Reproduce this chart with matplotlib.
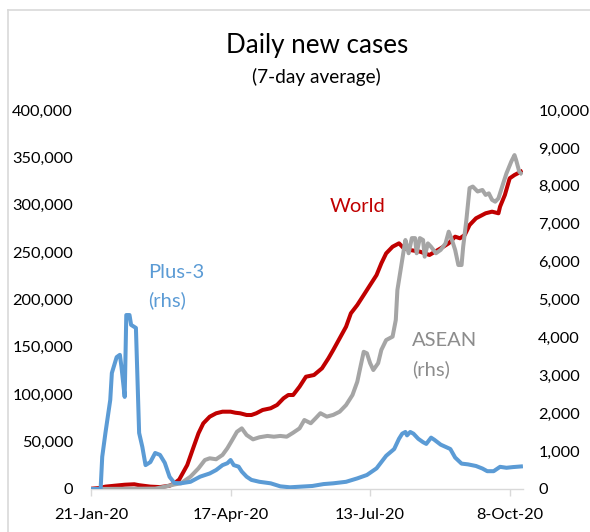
import matplotlib
matplotlib.use('Agg')
import matplotlib.pyplot as plt
from matplotlib.ticker import FuncFormatter
from matplotlib.lines import Line2D
import pandas as pd

plt.rcParams['font.family'] = ['Lato', 'DejaVu Sans']

start_date = '2020-01-21'

world_days = [0, 5, 9, 15, 21, 27, 30, 37, 43, 49, 52, 55, 60, 64, 67, 70, 74, 78, 82, 87, 90, 93,
              97, 100, 103, 107, 112, 116, 120, 123, 126, 130, 134, 139, 144, 148, 151, 155, 159,
              162, 166, 170, 174, 178, 181, 184, 188, 192, 195, 199, 205, 211, 218, 223, 227, 230,
              233, 236, 240, 246, 250, 254, 255, 258, 261, 264, 268]
world_vals = [300, 1000, 2500, 3500, 4500, 5000, 4000, 2500, 2000, 3500, 6000, 10000, 25300, 44600,
              58800, 69300, 76300, 79900, 81600, 81600, 80500, 79900, 78100, 78100, 79900, 83400,
              85200, 88700, 95700, 99200, 99200, 108000, 118500, 120300, 127400, 137900, 146700,
              159000, 171300, 185400, 194200, 204700, 215300, 225800, 238200, 248700, 255700,
              259300, 254000, 252200, 250500, 247000, 254000, 259300, 266300, 264600, 268100,
              278600, 285700, 291000, 292700, 291000, 298000, 310300, 327900, 331400, 334900]

asean_days = [0, 40, 46, 52, 56, 62, 67, 71, 74, 78, 82, 85, 88, 91, 94, 97, 101, 105, 110, 114,
              118, 122, 126, 130, 133, 137, 140, 143, 147, 151, 155, 159, 163, 166, 168, 170, 172,
              174, 176, 179, 181, 184, 188, 190, 191, 193, 195, 196, 198, 200, 202, 203, 205, 207,
              208, 210, 212, 215, 218, 221, 223, 225, 227, 229, 231, 232, 234, 236, 238, 241, 244,
              246, 248, 250, 252, 254, 257, 259, 262, 264, 265, 267, 268]
asean_vals = [0, 10, 60, 120, 150, 325, 545, 765, 810, 785, 900, 1075, 1290, 1510, 1600, 1425,
              1310, 1365, 1400, 1380, 1400, 1380, 1485, 1600, 1820, 1735, 1865, 2000, 1910, 1955,
              2040, 2215, 2480, 2830, 3230, 3620, 3580, 3320, 3140, 3320, 3670, 3930, 4020, 4460,
              5250, 5780, 6310, 6570, 6220, 6620, 6620, 6220, 6620, 6570, 6130, 6480, 6390, 6220,
              6310, 6480, 6790, 6570, 6310, 5910, 5910, 6390, 7100, 7940, 7980, 7850, 7890, 7760,
              7800, 7630, 7580, 7670, 8070, 8330, 8640, 8810, 8680, 8370, 8330]

plus3_days = [0, 6, 7, 9, 12, 13, 16, 18, 19, 21, 22, 24, 25, 28, 30, 32, 34, 37, 40, 43, 46, 49,
              52, 56, 62, 68, 74, 78, 82, 85, 87, 89, 92, 94, 97, 100, 105, 112, 118, 124, 130, 138,
              145, 151, 159, 166, 172, 178, 184, 189, 192, 194, 196, 197, 199, 201, 204, 207, 209,
              212, 214, 218, 224, 227, 231, 235, 240, 244, 247, 251, 255, 259, 263, 268]
plus3_vals = [0, 0, 850, 1480, 2350, 3060, 3480, 3540, 3220, 2430, 4590, 4590, 4330, 4250, 1480,
              1110, 630, 710, 950, 900, 690, 320, 160, 150, 190, 325, 410, 500, 630, 680, 765, 630,
              590, 460, 325, 240, 190, 150, 70, 45, 60, 80, 130, 150, 190, 280, 370, 545, 876, 1055,
              1325, 1460, 1505, 1415, 1505, 1460, 1325, 1235, 1190, 1355, 1300, 1170, 1055, 830,
              670, 650, 607, 540, 470, 470, 585, 560, 578, 595]

xtick_labels = ['21-Jan-20', '17-Apr-20', '13-Jul-20', '8-Oct-20']
left_ticks = list(range(0, 400001, 50000))
right_ticks = list(range(0, 10001, 1000))

start = pd.Timestamp(start_date)
to_dates = lambda d: start + pd.to_timedelta(d, unit='D')

W, H = 590, 532
fig = plt.figure(figsize=(W / 100, H / 100), dpi=100)
ax = fig.add_axes([91 / W, 43 / H, 432 / W, 379 / H])
ax2 = ax.twinx()

red, grey, blue = '#C00000', '#A5A5A5', '#5B9BD5'
lw = 2.9
ax.plot(to_dates(world_days), world_vals, color=red, lw=lw, solid_joinstyle='round')
ax2.plot(to_dates(asean_days), asean_vals, color=grey, lw=lw, solid_joinstyle='round')
ax2.plot(to_dates(plus3_days), plus3_vals, color=blue, lw=lw, solid_joinstyle='round')

ax.set_xlim(start, start + pd.Timedelta(days=269.3))
ax.set_ylim(0, 400000)
ax2.set_ylim(0, 10000)
ax.set_yticks(left_ticks)
ax2.set_yticks(right_ticks)
fmt = FuncFormatter(lambda v, p: f'{int(round(v)):,}')
ax.yaxis.set_major_formatter(fmt)
ax2.yaxis.set_major_formatter(fmt)

xt = [pd.Timestamp(pd.to_datetime(s, format='%d-%b-%y')) for s in xtick_labels]
ax.set_xticks(xt)
ax.set_xticklabels(xtick_labels)

fs = 11.8
ax.tick_params(axis='y', length=0, pad=13, labelsize=fs, labelcolor='black')
ax2.tick_params(axis='y', length=0, pad=11, labelsize=fs, labelcolor='black')
ax.tick_params(axis='x', length=5, width=1, color='#D9D9D9', direction='out', pad=9,
               labelsize=fs, labelcolor='black')

for s in ['left', 'right', 'top']:
    ax.spines[s].set_visible(False)
for s in ax2.spines.values():
    s.set_visible(False)
ax.spines['bottom'].set_color('#D9D9D9')
ax.spines['bottom'].set_linewidth(1.0)

fig.text(317 / W, 1 - 45 / H, 'Daily new cases', ha='center', va='center', fontsize=18.7)
fig.text(316 / W, 1 - 77 / H, '(7-day average)', ha='center', va='center', fontsize=13.7)

afs = 14.5
fig.text(330 / W, 1 - 206 / H, 'World', color=red, ha='left', va='center', fontsize=afs)
fig.text(148 / W, 1 - 273 / H, 'Plus-3', color=blue, ha='left', va='center', fontsize=afs)
fig.text(148 / W, 1 - 300 / H, '(rhs)', color=blue, ha='left', va='center', fontsize=afs)
fig.text(412 / W, 1 - 341 / H, 'ASEAN', color='#8C8C8C', ha='left', va='center', fontsize=afs)
fig.text(412 / W, 1 - 369 / H, '(rhs)', color='#8C8C8C', ha='left', va='center', fontsize=afs)

fig.add_artist(Line2D([8 / W, 8 / W], [0, 1 - 10 / H], transform=fig.transFigure,
                      color='#D9D9D9', lw=1.2))
fig.add_artist(Line2D([8 / W, 1], [1 - 10 / H, 1 - 10 / H], transform=fig.transFigure,
                      color='#D9D9D9', lw=1.2))

fig.savefig('out.png', dpi=100)
